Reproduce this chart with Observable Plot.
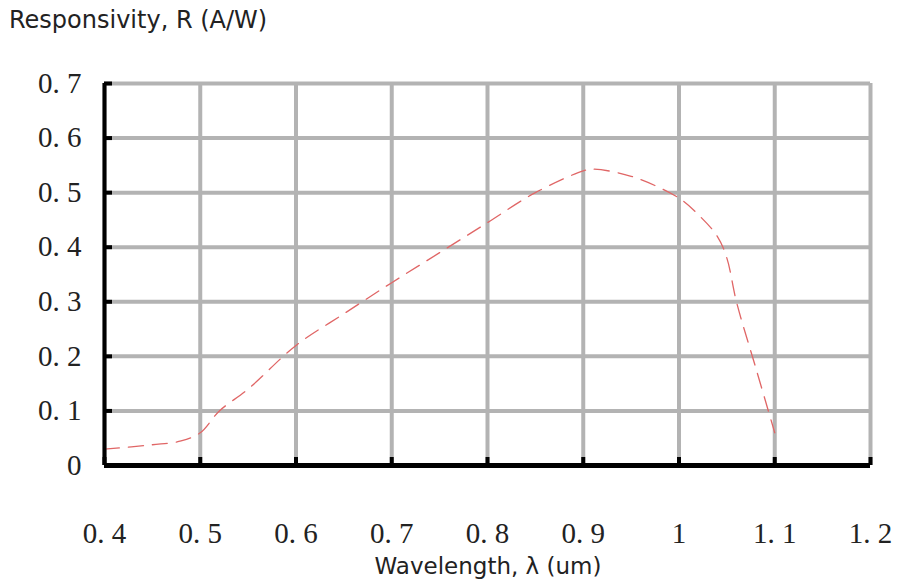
<!DOCTYPE html>
<html><head><meta charset="utf-8">
<script src="https://cdn.jsdelivr.net/npm/d3@7"></script>
<script src="https://cdn.jsdelivr.net/npm/@observablehq/plot@0.6"></script>
<style>
body{margin:0;background:#fff;width:899px;height:587px;position:relative;overflow:hidden}
#title{position:absolute;left:9px;top:6px;font-family:"DejaVu Sans",sans-serif;font-size:24px;color:#222;white-space:nowrap}
#chart{position:absolute;left:0;top:40px}
#xlabel{position:absolute;left:238px;width:500px;text-align:center;top:553px;font-family:"DejaVu Sans",sans-serif;font-size:23px;color:#222;white-space:nowrap}
</style>
</head><body>
<div id="title">Responsivity, R (A/W)</div>
<div id="chart"></div>
<div id="xlabel">Wavelength, λ (um)</div>
<script>
const wavelength = [0.40,0.45,0.48,0.50,0.52,0.55,0.60,0.65,0.70,0.75,0.80,0.85,0.90,0.91,0.95,1.00,1.02,1.04,1.05,1.06,1.08,1.10];
const responsivity = [0.030,0.038,0.045,0.060,0.100,0.140,0.220,0.278,0.335,0.390,0.445,0.500,0.540,0.543,0.530,0.490,0.460,0.420,0.380,0.300,0.180,0.060];
const xTicks = [0.4,0.5,0.6,0.7,0.8,0.9,1.0,1.1,1.2];
const xTickLabels = ["0. 4","0. 5","0. 6","0. 7","0. 8","0. 9","1","1. 1","1. 2"];
const yTicks = [0,0.1,0.2,0.3,0.4,0.5,0.6,0.7];
const yTickLabels = ["0","0. 1","0. 2","0. 3","0. 4","0. 5","0. 6","0. 7"];

const data = wavelength.map((x,i)=>({x, y: responsivity[i]}));
const grid = "#b3b3b3";
const serif = "'Liberation Serif', 'DejaVu Serif', serif";

const chart = Plot.plot({
  width: 899, height: 510,
  marginTop: 43, marginBottom: 85, marginLeft: 104, marginRight: 29,
  x: {domain: [xTicks[0], xTicks[xTicks.length-1]]},
  y: {domain: [yTicks[0], yTicks[yTicks.length-1]]},
  marks: [
    Plot.gridX(xTicks, {stroke: grid, strokeOpacity: 1, strokeWidth: 4}),
    Plot.gridY(yTicks, {stroke: grid, strokeOpacity: 1, strokeWidth: 4}),
    Plot.line(data, {x: "x", y: "y", stroke: "#e06666", strokeWidth: 1.3, strokeDasharray: "15,9", curve: "catmull-rom"}),
    Plot.ruleX([xTicks[0]], {stroke: "black", strokeWidth: 4}),
    Plot.ruleY([yTicks[0]], {stroke: "black", strokeWidth: 5}),
    Plot.axisY(yTicks, {tickSize: 8, dx: 8, tickFormat: () => "", stroke: "black", strokeWidth: 4, label: null}),
    Plot.axisX(xTicks, {tickSize: 8, dy: -8, tickFormat: () => "", stroke: "black", strokeWidth: 4, label: null}),
    Plot.axisY(yTicks, {tickSize: 0, tickPadding: 23, tickFormat: (d,i) => yTickLabels[i], fontSize: 29, fontFamily: serif, fill: "#222", label: null}),
    Plot.axisX(xTicks, {tickSize: 0, tickPadding: 57, tickFormat: (d,i) => xTickLabels[i], fontSize: 29, fontFamily: serif, fill: "#222", label: null})
  ]
});
document.getElementById("chart").appendChild(chart);
</script>
</body></html>
